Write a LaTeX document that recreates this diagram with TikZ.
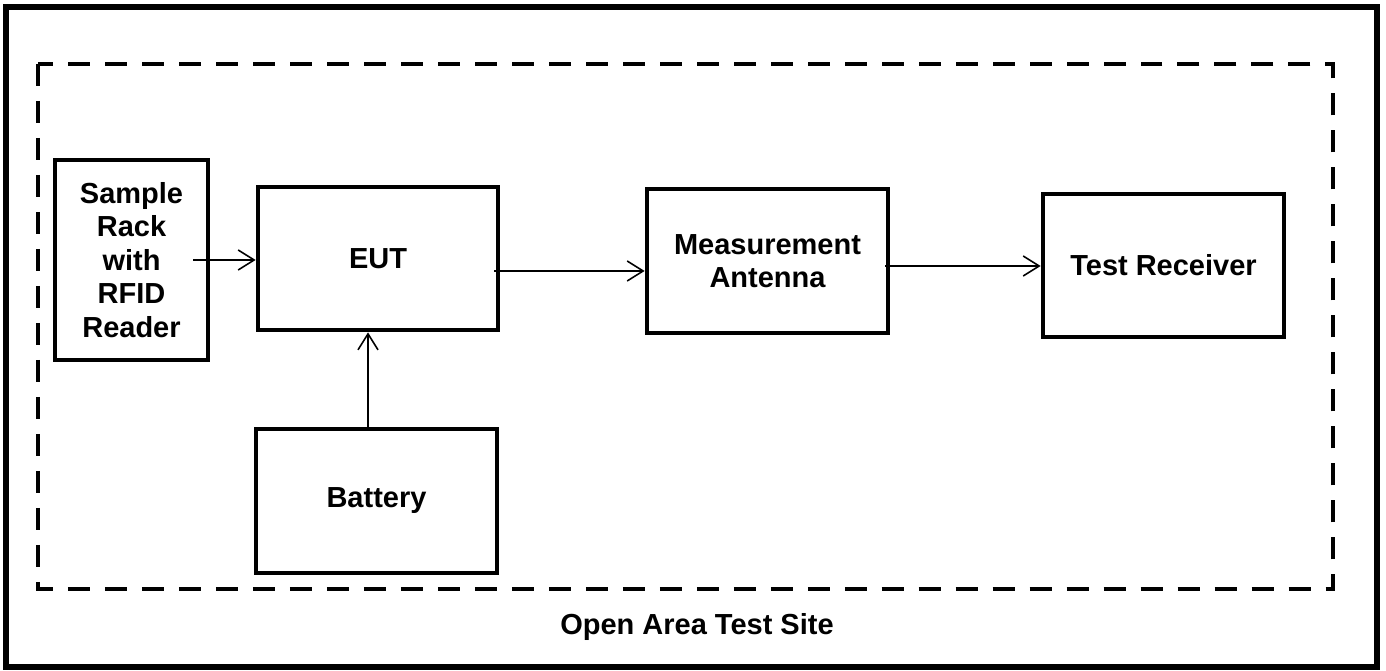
\documentclass[tikz,border=0pt]{standalone}
\usepackage{fontspec}
\setmainfont{Liberation Sans}
\usetikzlibrary{arrows.meta}

\begin{document}
\begin{tikzpicture}[x=0.02cm,y=-0.02cm,
    blk/.style={draw,line width=2.7pt,align=center,inner sep=0pt,font=\fontsize{16.5}{19}\selectfont\bfseries},
    conn/.style={line width=0.9pt,-{Straight Barb[length=0.32cm,width=0.4cm]}}]
    \useasboundingbox (0,0) rectangle (1386,671);

    % site border and dashed test area
    \draw[line width=3pt] (6,7) rectangle (1377,667);
    \draw[line width=2.8pt,dash pattern=on 0.44cm off 0.3cm] (38,64) rectangle (1333,589);

    \node[blk,minimum width=3.06cm,minimum height=4cm] (rack) at (131.5,260) {Sample\\Rack\\with\\RFID\\Reader};
    \node[blk,minimum width=4.8cm,minimum height=2.86cm] (eut) at (378,258.5) {EUT};
    \node[blk,minimum width=4.82cm,minimum height=2.88cm] (battery) at (376.5,501) {Battery};
    \node[blk,minimum width=4.82cm,minimum height=2.88cm] (antenna) at (767.5,261) {Measurement\\Antenna};
    \node[blk,minimum width=4.82cm,minimum height=2.86cm] (receiver) at (1163.5,265.5) {Test Receiver};

    \node[font=\fontsize{16.5}{19}\selectfont\bfseries] (site) at (697,627) {Open Area Test Site};

    % signal path
    \draw[conn] ([xshift=-0.34cm]rack.east) -- (rack.east -| eut.west);
    \draw[conn] ([xshift=-0.12cm,yshift=-0.25cm]eut.east) coordinate (e1) -- (e1 -| antenna.west);
    \draw[conn] ([xshift=-0.1cm,yshift=-0.1cm]antenna.east) coordinate (a1) -- (a1 -| receiver.west);
    \draw[conn] ([xshift=-0.17cm]battery.north) coordinate (b1) -- (b1 |- eut.south);
\end{tikzpicture}
\end{document}
